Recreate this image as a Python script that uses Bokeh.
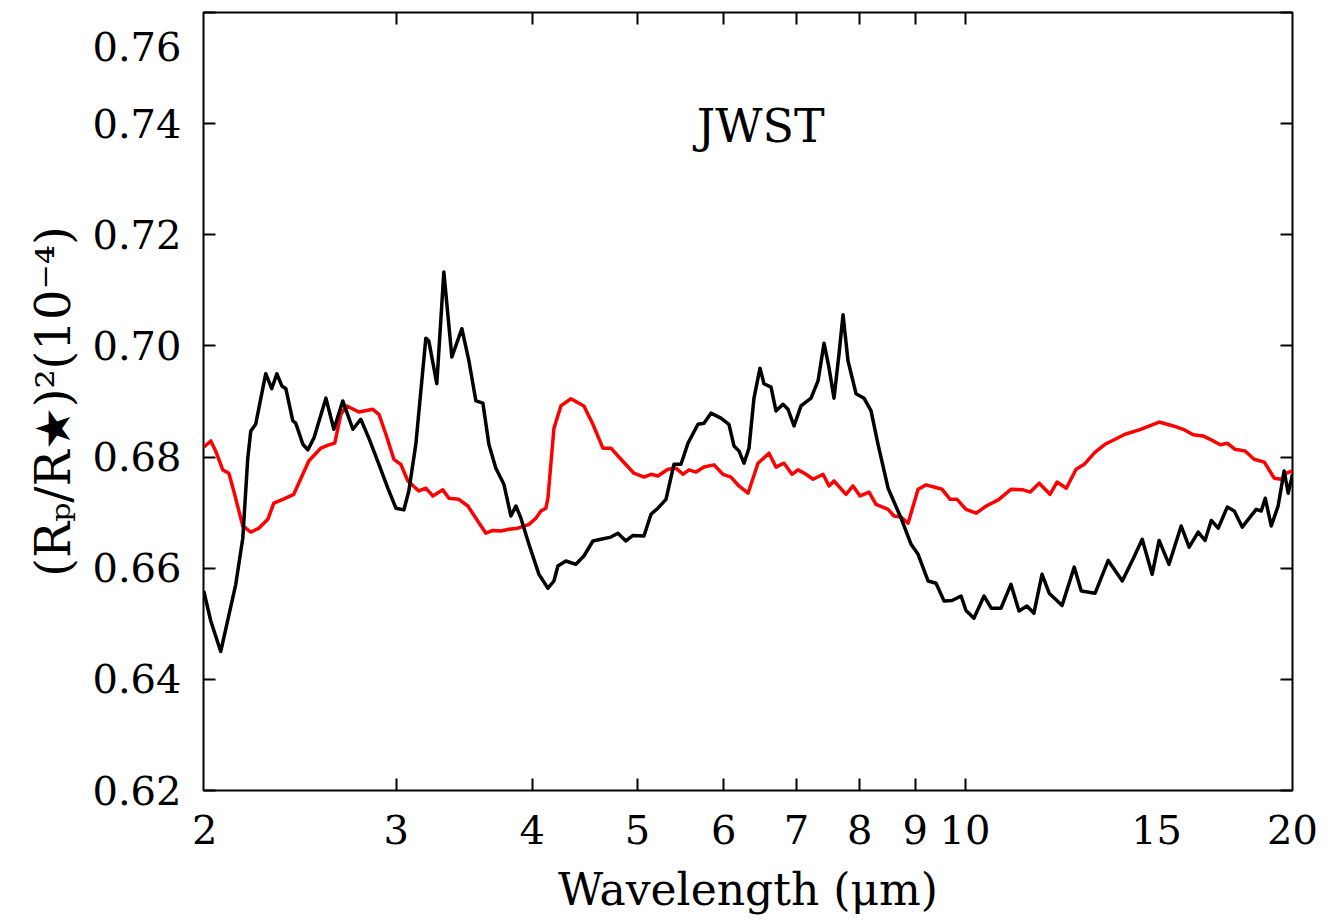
from bokeh.plotting import figure
from bokeh.models import (Range1d, FixedTicker, LinearAxis, LogAxis, Label,
                          PrintfTickFormatter, CustomJSTickFormatter)
from bokeh.embed import file_html
from bokeh.resources import INLINE

# Transit depth spectra, (Rp/R*)^2 in units of 1e-4, versus wavelength (micron)
wl_black = [1.996, 2.026, 2.069, 2.136, 2.168, 2.191, 2.205, 2.228, 2.243, 2.276,
            2.305, 2.330, 2.355, 2.375, 2.410, 2.425, 2.462, 2.488, 2.520, 2.585,
            2.629, 2.679, 2.737, 2.783, 2.831, 2.892, 2.947, 2.998, 3.049, 3.081,
            3.127, 3.194, 3.214, 3.269, 3.318, 3.375, 3.447, 3.499, 3.551, 3.604,
            3.650, 3.704, 3.768, 3.824, 3.865, 3.906, 3.973, 4.058, 4.136, 4.189,
            4.224, 4.296, 4.388, 4.463, 4.549, 4.627, 4.726, 4.796, 4.878, 4.951,
            5.068, 5.144, 5.220, 5.310, 5.400, 5.481, 5.563, 5.682, 5.755, 5.840,
            5.965, 6.067, 6.132, 6.197, 6.263, 6.330, 6.397, 6.479, 6.534, 6.632,
            6.702, 6.802, 6.875, 6.963, 7.067, 7.218, 7.326, 7.420, 7.499, 7.578,
            7.659, 7.724, 7.806, 7.940, 8.075, 8.196, 8.318, 8.497, 8.734, 8.921,
            9.054, 9.248, 9.405, 9.566, 9.730, 9.917, 10.02, 10.19, 10.41, 10.57,
            10.79, 11.02, 11.21, 11.40, 11.57, 11.77, 11.95, 12.28, 12.60, 12.79,
            13.17, 13.54, 13.95, 14.30, 14.55, 14.86, 15.08, 15.40, 15.80, 16.07,
            16.38, 16.62, 16.84, 17.09, 17.42, 17.68, 17.98, 18.52, 18.72, 18.88,
            19.12, 19.40, 19.65, 19.82, 20.0]
depth_black = [0.6559, 0.6505, 0.6450, 0.6571, 0.6654, 0.6798, 0.6847, 0.6859, 0.6888, 0.6950,
               0.6923, 0.6950, 0.6928, 0.6923, 0.6865, 0.6861, 0.6823, 0.6813, 0.6834, 0.6906,
               0.6850, 0.6901, 0.6850, 0.6868, 0.6834, 0.6787, 0.6744, 0.6708, 0.6705, 0.6739,
               0.6823, 0.7014, 0.7009, 0.6932, 0.7133, 0.6980, 0.7031, 0.6973, 0.6901, 0.6897,
               0.6823, 0.6780, 0.6751, 0.6694, 0.6712, 0.6690, 0.6643, 0.6589, 0.6564, 0.6577,
               0.6604, 0.6613, 0.6607, 0.6622, 0.6649, 0.6652, 0.6656, 0.6663, 0.6649, 0.6659,
               0.6658, 0.6697, 0.6708, 0.6724, 0.6787, 0.6787, 0.6825, 0.6859, 0.6861, 0.6879,
               0.6870, 0.6859, 0.6820, 0.6811, 0.6789, 0.6816, 0.6906, 0.6960, 0.6932, 0.6926,
               0.6883, 0.6895, 0.6886, 0.6856, 0.6892, 0.6906, 0.6937, 0.7005, 0.6960, 0.6906,
               0.6986, 0.7056, 0.6973, 0.6914, 0.6906, 0.6883, 0.6823, 0.6744, 0.6690, 0.6643,
               0.6625, 0.6577, 0.6573, 0.6541, 0.6542, 0.6550, 0.6524, 0.6510, 0.6550, 0.6528,
               0.6528, 0.6571, 0.6523, 0.6532, 0.6519, 0.6589, 0.6555, 0.6533, 0.6602, 0.6559,
               0.6555, 0.6614, 0.6577, 0.6620, 0.6652, 0.6589, 0.6650, 0.6607, 0.6676, 0.6638,
               0.6665, 0.6650, 0.6686, 0.6672, 0.6710, 0.6703, 0.6674, 0.6706, 0.6703, 0.6726,
               0.6676, 0.6712, 0.6775, 0.6735, 0.6769]

wl_red = [1.996, 2.026, 2.047, 2.078, 2.105, 2.127, 2.168, 2.205, 2.243, 2.286,
          2.315, 2.360, 2.415, 2.493, 2.557, 2.601, 2.634, 2.668, 2.702, 2.772,
          2.855, 2.892, 2.935, 2.985, 3.029, 3.075, 3.147, 3.194, 3.242, 3.311,
          3.354, 3.425, 3.491, 3.551, 3.627, 3.681, 3.744, 3.808, 3.881, 3.973,
          4.032, 4.075, 4.118, 4.136, 4.189, 4.251, 4.342, 4.463, 4.549, 4.646,
          4.726, 4.827, 4.962, 5.068, 5.144, 5.220, 5.332, 5.423, 5.504, 5.575,
          5.658, 5.755, 5.878, 5.990, 6.093, 6.197, 6.317, 6.452, 6.604, 6.702,
          6.817, 6.933, 7.022, 7.142, 7.249, 7.404, 7.499, 7.578, 7.773, 7.889,
          8.007, 8.161, 8.283, 8.497, 8.605, 8.734, 8.864, 9.054, 9.208, 9.526,
          9.689, 9.833, 10.02, 10.24, 10.46, 10.73, 11.02, 11.31, 11.48, 11.70,
          11.97, 12.15, 12.39, 12.65, 12.87, 13.17, 13.45, 13.74, 14.03, 14.46,
          14.86, 15.08, 15.54, 15.87, 16.21, 16.55, 16.84, 17.16, 17.42, 17.71,
          18.09, 18.44, 18.84, 19.24, 19.53, 19.74, 20.0]
depth_red = [0.6818, 0.6829, 0.6811, 0.6777, 0.6771, 0.6739, 0.6676, 0.6665, 0.6672, 0.6688,
             0.6717, 0.6724, 0.6733, 0.6793, 0.6816, 0.6822, 0.6825, 0.6877, 0.6892, 0.6881,
             0.6886, 0.6877, 0.6841, 0.6796, 0.6787, 0.6757, 0.6739, 0.6744, 0.6730, 0.6741,
             0.6726, 0.6724, 0.6712, 0.6690, 0.6663, 0.6668, 0.6667, 0.6670, 0.6672, 0.6679,
             0.6690, 0.6703, 0.6708, 0.6726, 0.6852, 0.6892, 0.6905, 0.6892, 0.6859, 0.6816,
             0.6816, 0.6796, 0.6771, 0.6764, 0.6769, 0.6766, 0.6778, 0.6780, 0.6769, 0.6777,
             0.6773, 0.6782, 0.6786, 0.6769, 0.6764, 0.6748, 0.6735, 0.6789, 0.6807, 0.6782,
             0.6789, 0.6769, 0.6777, 0.6769, 0.6760, 0.6769, 0.6748, 0.6757, 0.6733, 0.6748,
             0.6730, 0.6737, 0.6715, 0.6706, 0.6694, 0.6692, 0.6681, 0.6742, 0.6750, 0.6742,
             0.6724, 0.6724, 0.6706, 0.6699, 0.6712, 0.6723, 0.6742, 0.6741, 0.6737, 0.6753,
             0.6733, 0.6755, 0.6744, 0.6778, 0.6787, 0.6809, 0.6823, 0.6832, 0.6841, 0.6849,
             0.6858, 0.6863, 0.6856, 0.6850, 0.6840, 0.6838, 0.6831, 0.6822, 0.6825, 0.6814,
             0.6811, 0.6796, 0.6791, 0.6762, 0.6760, 0.6771, 0.6775]

x_label_ticks = [2, 3, 4, 5, 6, 7, 8, 9, 10, 15, 20]
x_mark_ticks = [3, 4, 5, 6, 7, 8, 9, 10]
y_ticks = [0.62, 0.64, 0.66, 0.68, 0.70, 0.72, 0.74, 0.76]

SERIF = "DejaVu Serif"
TICK_LEN = 12

p = figure(x_axis_type="log",
           x_range=Range1d(1.995, 20.0), y_range=Range1d(0.62, 0.76),
           frame_width=1089, frame_height=778,
           min_border_left=203, min_border_right=46,
           min_border_top=12, min_border_bottom=131,
           output_backend="svg", toolbar_location=None)

p.background_fill_color = "white"
p.border_fill_color = "white"
p.xgrid.visible = False
p.ygrid.visible = False
p.outline_line_color = "black"
p.outline_line_width = 2

# bottom axis: labels on every value, tick marks only at 3..10
xa = p.xaxis[0]
xa.ticker = FixedTicker(ticks=x_label_ticks, minor_ticks=x_mark_ticks)
xa.formatter = PrintfTickFormatter(format="%d")
xa.axis_line_color = None
xa.major_tick_in = 0
xa.major_tick_out = 0
xa.minor_tick_in = TICK_LEN
xa.minor_tick_out = 0
xa.minor_tick_line_color = "black"
xa.minor_tick_line_width = 2
xa.major_label_standoff = 24
xa.major_label_text_font = SERIF
xa.major_label_text_font_size = "40px"
xa.major_label_text_color = "black"
xa.axis_label = "Wavelength (μm)"
xa.axis_label_text_font = SERIF
xa.axis_label_text_font_size = "44px"
xa.axis_label_text_font_style = "normal"
xa.axis_label_text_color = "black"
xa.axis_label_standoff = 17

# left axis: the topmost value is dropped half a line so it stays on the page
ya = p.yaxis[0]
ya.ticker = FixedTicker(ticks=y_ticks)
ya.formatter = CustomJSTickFormatter(
    code="const s = tick.toFixed(2); return tick > 0.755 ? '\\n' + s : s;")
ya.axis_line_color = None
ya.major_tick_in = TICK_LEN
ya.major_tick_out = 0
ya.major_tick_line_color = "black"
ya.major_tick_line_width = 2
ya.minor_tick_line_color = None
ya.major_label_standoff = 22
ya.major_label_text_font = SERIF
ya.major_label_text_font_size = "40px"
ya.major_label_text_line_height = 0.5
ya.major_label_text_color = "black"
ya.axis_label = "(Rₚ/R★)²(10⁻⁴)"
ya.axis_label_text_font = SERIF
ya.axis_label_text_font_size = "48px"
ya.axis_label_text_font_style = "normal"
ya.axis_label_text_color = "black"
ya.axis_label_standoff = 8

# mirrored tick marks on the right and top edges (minor ticks carry no labels)
ra = LinearAxis(ticker=FixedTicker(ticks=[], minor_ticks=y_ticks), axis_line_color=None,
                major_tick_in=0, major_tick_out=0,
                minor_tick_in=TICK_LEN, minor_tick_out=0, minor_tick_line_width=2,
                minor_tick_line_color="black", major_label_standoff=0)
p.add_layout(ra, "right")

ta = LogAxis(ticker=FixedTicker(ticks=[], minor_ticks=x_mark_ticks), axis_line_color=None,
             major_tick_in=0, major_tick_out=0,
             minor_tick_in=TICK_LEN, minor_tick_out=0, minor_tick_line_width=2,
             minor_tick_line_color="black", major_label_standoff=0)
p.add_layout(ta, "above")

p.line(wl_red, depth_red, line_color="#ff0000", line_width=3.5, line_join="round")
p.line(wl_black, depth_black, line_color="black", line_width=3.5, line_join="round")

p.add_layout(Label(x=6.49, y=0.7396, text="JWST", text_align="center",
                   text_baseline="middle", text_font=SERIF, text_font_size="46px",
                   text_color="black"))

open("out.html", "w").write(file_html(p, INLINE))
